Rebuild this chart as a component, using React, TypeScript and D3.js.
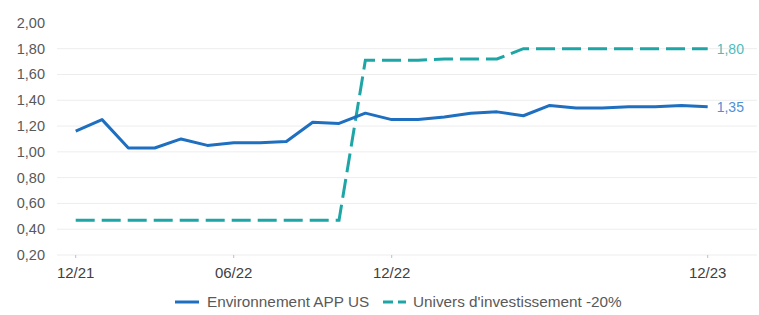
import React, { useRef, useEffect } from 'react';
import * as d3 from 'd3';

// monthly points, 12/21 -> 12/23
const months = [
  '12/21', '01/22', '02/22', '03/22', '04/22', '05/22', '06/22', '07/22', '08/22', '09/22', '10/22', '11/22',
  '12/22', '01/23', '02/23', '03/23', '04/23', '05/23', '06/23', '07/23', '08/23', '09/23', '10/23', '11/23', '12/23',
];
const appUs = [
  1.16, 1.25, 1.03, 1.03, 1.10, 1.05, 1.07, 1.07, 1.08, 1.23, 1.22, 1.30,
  1.25, 1.25, 1.27, 1.30, 1.31, 1.28, 1.36, 1.34, 1.34, 1.35, 1.35, 1.36, 1.35,
];
const univers = [
  0.47, 0.47, 0.47, 0.47, 0.47, 0.47, 0.47, 0.47, 0.47, 0.47, 0.47, 1.71,
  1.71, 1.71, 1.72, 1.72, 1.72, 1.80, 1.80, 1.80, 1.80, 1.80, 1.80, 1.80, 1.80,
];
const xTickLabels = ['12/21', '06/22', '12/22', '12/23'];
const yTicks = [0.2, 0.4, 0.6, 0.8, 1.0, 1.2, 1.4, 1.6, 1.8, 2.0];
const seriesNames = ['Environnement APP US', "Univers d'investissement -20%"];

const width = 759;
const height = 315;
const font = '"Liberation Sans", Arial, sans-serif';
const blue = '#1f6fc1';
const teal = '#1ea5a5';
const fmt = (v: number) => d3.format('.2f')(v).replace('.', ',');

export default function App() {
  const svgRef = useRef<SVGSVGElement>(null);

  useEffect(() => {
    const svg = d3.select(svgRef.current);
    svg.selectAll('*').remove();

    const x = d3.scalePoint<string>().domain(months).range([75.7, 707.7]);
    const y = d3.scaleLinear().domain([0.2, 2.0]).range([255, 22.9]);

    // gridlines (none drawn at the top value)
    svg.append('g')
      .selectAll('line')
      .data(yTicks.filter(t => t < 1.9))
      .join('line')
      .attr('x1', 57)
      .attr('x2', 757)
      .attr('y1', d => y(d))
      .attr('y2', d => y(d))
      .attr('stroke', '#ededed')
      .attr('stroke-width', 1);

    // y labels
    svg.append('g')
      .selectAll('text')
      .data(yTicks)
      .join('text')
      .attr('x', 45)
      .attr('y', d => y(d) + 5)
      .attr('text-anchor', 'end')
      .attr('font-size', 14.5)
      .attr('font-family', font)
      .attr('fill', '#595959')
      .text(d => fmt(d));

    // x ticks + labels
    const xg = svg.append('g');
    xg.selectAll('line')
      .data(xTickLabels)
      .join('line')
      .attr('x1', d => x(d)!)
      .attr('x2', d => x(d)!)
      .attr('y1', 255)
      .attr('y2', 258)
      .attr('stroke', '#bfbfbf');
    xg.selectAll('text')
      .data(xTickLabels)
      .join('text')
      .attr('x', d => x(d)!)
      .attr('y', 278)
      .attr('text-anchor', 'middle')
      .attr('font-size', 15)
      .attr('font-family', font)
      .attr('fill', '#404040')
      .text(d => d);

    const line = d3.line<number>()
      .x((_, i) => x(months[i])!)
      .y(d => y(d));

    svg.append('path')
      .datum(univers)
      .attr('fill', 'none')
      .attr('stroke', teal)
      .attr('stroke-width', 3)
      .attr('stroke-dasharray', '19,7')
      .attr('d', line);

    svg.append('path')
      .datum(appUs)
      .attr('fill', 'none')
      .attr('stroke', blue)
      .attr('stroke-width', 3)
      .attr('stroke-linejoin', 'round')
      .attr('d', line);

    // end labels
    const last = months[months.length - 1];
    svg.append('text')
      .attr('x', x(last)! + 9)
      .attr('y', y(univers[univers.length - 1]) + 5)
      .attr('font-size', 14)
      .attr('font-family', font)
      .attr('fill', '#4fbcbc')
      .text(fmt(univers[univers.length - 1]));
    svg.append('text')
      .attr('x', x(last)! + 9)
      .attr('y', y(appUs[appUs.length - 1]) + 5)
      .attr('font-size', 14)
      .attr('font-family', font)
      .attr('fill', '#4f8fd6')
      .text(fmt(appUs[appUs.length - 1]));

    // legend
    const leg = svg.append('g').attr('font-family', font).attr('font-size', 15.3).attr('fill', '#595959');
    leg.append('line').attr('x1', 175).attr('x2', 199).attr('y1', 302).attr('y2', 302)
      .attr('stroke', blue).attr('stroke-width', 3);
    leg.append('text').attr('x', 207).attr('y', 307).text(seriesNames[0]);
    leg.append('line').attr('x1', 383).attr('x2', 406).attr('y1', 302).attr('y2', 302)
      .attr('stroke', teal).attr('stroke-width', 3).attr('stroke-dasharray', '10,5');
    leg.append('text').attr('x', 413).attr('y', 307).text(seriesNames[1]);
  }, []);

  return (
    <svg
      ref={svgRef}
      width={width}
      height={height}
      style={{ position: 'fixed', top: 0, left: 0, background: '#fff' }}
    />
  );
}
